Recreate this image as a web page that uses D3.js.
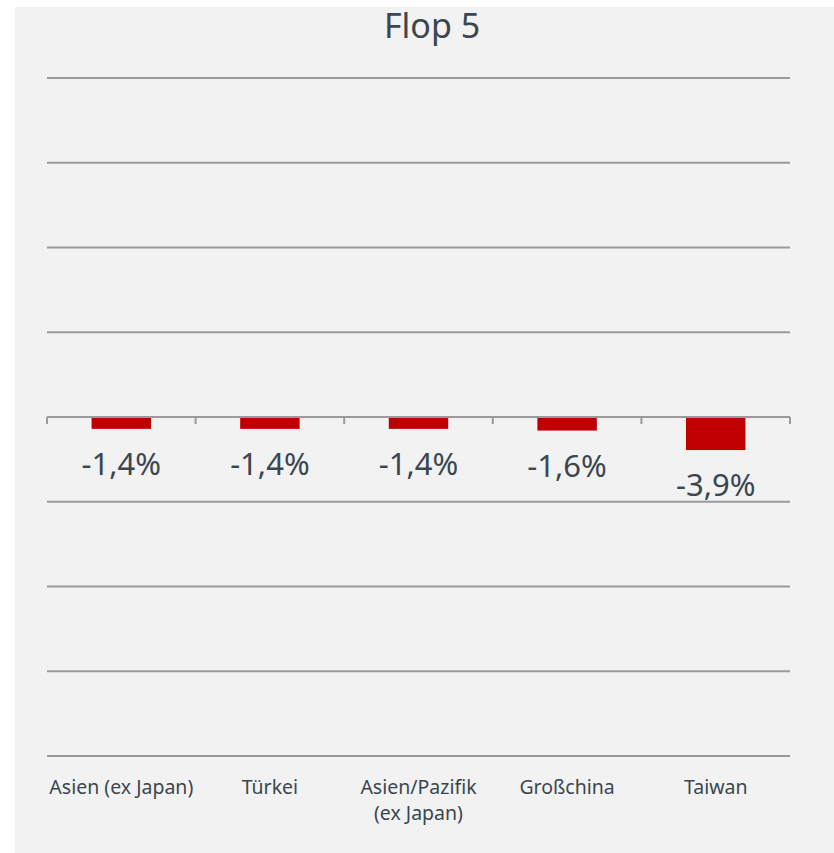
<!DOCTYPE html>
<html>
<head>
<meta charset="utf-8">
<script src="https://cdn.jsdelivr.net/npm/d3@7"></script>
<style>
  body { margin: 0; background: #ffffff; }
  svg { display: block; }
</style>
</head>
<body>
<script>
var categories = ["Asien (ex Japan)", "Türkei", "Asien/Pazifik|(ex Japan)", "Großchina", "Taiwan"];
var values = [-1.4, -1.4, -1.4, -1.6, -3.9];
var valueLabels = ["-1,4%", "-1,4%", "-1,4%", "-1,6%", "-3,9%"];
var gridTicks = [40, 30, 20, 10, 0, -10, -20, -30, -40];
var title = "Flop 5";

var w = 834, h = 853;
var font = "'Noto Sans', 'Open Sans', sans-serif";
var textColor = "#3b4650";

var svg = d3.select("body").append("svg")
    .attr("width", w)
    .attr("height", h);

// grauer Hintergrund
svg.append("rect")
    .attr("x", 15).attr("y", 7)
    .attr("width", w - 15).attr("height", h - 7)
    .attr("fill", "#f2f2f2");

var x = d3.scaleBand()
    .domain(categories)
    .range([47, 790])
    .paddingInner(0.6)
    .paddingOuter(0.3);

var y = d3.scaleLinear()
    .domain([-40, 40])
    .range([756, 78]);

// Gitterlinien
svg.selectAll("line.grid")
    .data(gridTicks.filter(function(d) { return d !== 0; }))
    .enter()
    .append("line")
    .attr("class", "grid")
    .attr("x1", 47).attr("x2", 790)
    .attr("y1", function(d) { return y(d); })
    .attr("y2", function(d) { return y(d); })
    .attr("stroke", "#9a9a9a")
    .attr("stroke-width", 2);

// Balken
svg.selectAll("rect.bar")
    .data(values)
    .enter()
    .append("rect")
    .attr("class", "bar")
    .attr("x", function(d, i) { return x(categories[i]); })
    .attr("y", function(d) { return y(Math.max(0, d)); })
    .attr("width", x.bandwidth())
    .attr("height", function(d) { return Math.abs(y(d) - y(0)); })
    .attr("fill", "#c00000");

// Nulllinie mit Ticks
var gAxis = svg.append("g")
    .attr("transform", "translate(0," + y(0) + ")");
gAxis.append("line")
    .attr("x1", 47).attr("x2", 790)
    .attr("stroke", "#9a9a9a").attr("stroke-width", 2);

var bounds = d3.range(categories.length + 1).map(function(i) {
    return 47 + i * (790 - 47) / categories.length;
});
gAxis.selectAll("line.tick-mark")
    .data(bounds)
    .enter()
    .append("line")
    .attr("class", "tick-mark")
    .attr("x1", function(d) { return d; })
    .attr("x2", function(d) { return d; })
    .attr("y1", 0).attr("y2", 7)
    .attr("stroke", "#9a9a9a").attr("stroke-width", 2);

// Werte
svg.selectAll("text.value")
    .data(values)
    .enter()
    .append("text")
    .attr("class", "value")
    .attr("x", function(d, i) { return x(categories[i]) + x.bandwidth() / 2; })
    .attr("y", function(d) { return y(Math.min(0, d)) + 46; })
    .attr("text-anchor", "middle")
    .attr("font-family", font)
    .attr("font-size", "31px")
    .attr("fill", textColor)
    .text(function(d, i) { return valueLabels[i]; });

// Kategorien
var cats = svg.selectAll("text.cat")
    .data(categories)
    .enter()
    .append("text")
    .attr("class", "cat")
    .attr("text-anchor", "middle")
    .attr("font-family", font)
    .attr("font-size", "19.5px")
    .attr("fill", textColor);

cats.selectAll("tspan")
    .data(function(d) {
        return d.split("|").map(function(t, k) { return { t: t, k: k, c: d }; });
    })
    .enter()
    .append("tspan")
    .attr("x", function(d) { return x(d.c) + x.bandwidth() / 2; })
    .attr("y", function(d) { return 794 + d.k * 26; })
    .text(function(d) { return d.t; });

// Titel
svg.append("text")
    .attr("x", 432)
    .attr("y", 38)
    .attr("text-anchor", "middle")
    .attr("font-family", font)
    .attr("font-size", "34px")
    .attr("fill", textColor)
    .text(title);
</script>
</body>
</html>
